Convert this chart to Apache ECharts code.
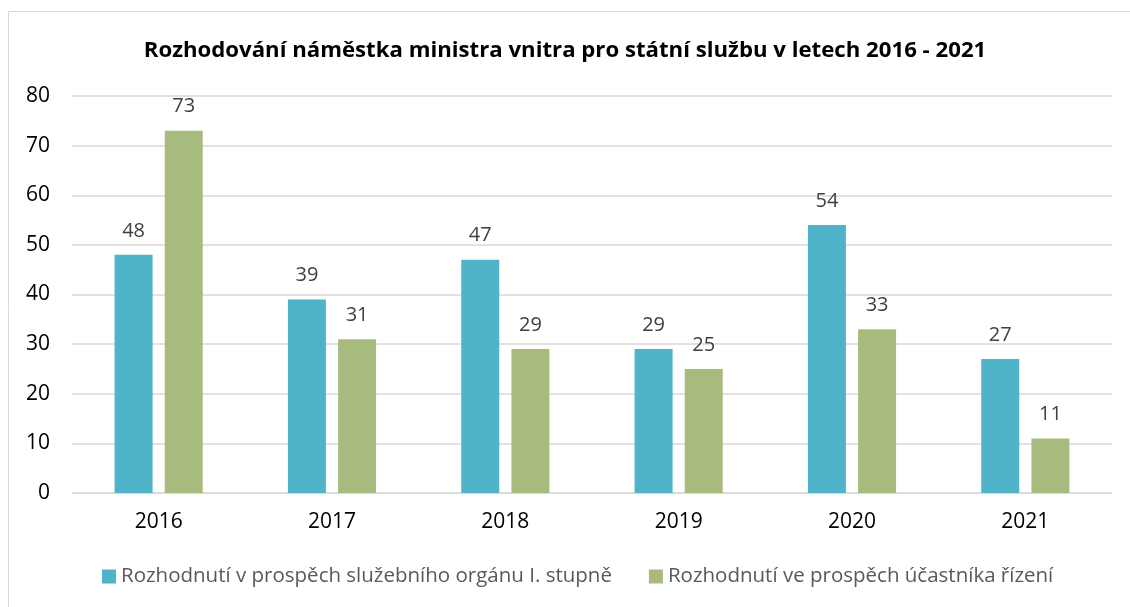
<!DOCTYPE html>
<html>
<head>
<meta charset="utf-8">
<script src="https://cdn.jsdelivr.net/npm/echarts@6/dist/echarts.min.js"></script>
<style>
  html, body { margin: 0; padding: 0; background: #fff; }
  #chart { width: 1130px; height: 607px; }
</style>
</head>
<body>
<div id="chart"></div>
<script>
// --- Data ---
const years = ['2016', '2017', '2018', '2019', '2020', '2021'];
const organValues = [48, 39, 47, 29, 54, 27];
const participantValues = [73, 31, 29, 25, 33, 11];
const seriesNames = [
    'Rozhodnutí v prospěch služebního orgánu I. stupně',
    'Rozhodnutí ve prospěch účastníka řízení'
];

const font = '"Open Sans", Lato, sans-serif';
const chart = echarts.init(document.getElementById('chart'));

const labelStyle = {
    show: true,
    position: 'top',
    distance: 14,
    color: '#404040',
    fontSize: 20,
    fontFamily: font
};

chart.setOption({
    animation: false,
    graphic: [{
        type: 'rect',
        shape: { x: 8.5, y: 11.5, width: 1140, height: 620 },
        style: { fill: 'none', stroke: '#d9d9d9', lineWidth: 1 },
        silent: true
    }],
    title: {
        text: 'Rozhodování náměstka ministra vnitra pro státní službu v letech 2016 - 2021',
        left: 560,
        textAlign: 'center',
        top: 35,
        textStyle: { fontFamily: font, fontSize: 22.2, fontWeight: 'bold', color: '#000' }
    },
    legend: {
        bottom: 15,
        left: 97,
        itemWidth: 14,
        itemHeight: 14,
        itemGap: 37,
        icon: 'rect',
        textStyle: { fontFamily: font, fontSize: 20.5, color: '#595959' }
    },
    grid: { left: 72, right: 18, top: 96, bottom: 114 },
    xAxis: {
        type: 'category',
        data: years,
        axisTick: { show: false },
        axisLine: { lineStyle: { color: '#d9d9d9', width: 1.5 } },
        axisLabel: { fontFamily: font, fontSize: 21, color: '#000', margin: 19 }
    },
    yAxis: {
        type: 'value',
        min: 0,
        max: 80,
        interval: 10,
        axisLabel: { fontFamily: font, fontSize: 21, color: '#000', margin: 22 },
        splitLine: { lineStyle: { color: '#d9d9d9', width: 1.5 } }
    },
    series: [
        {
            name: seriesNames[0],
            type: 'bar',
            data: organValues,
            barWidth: 38,
            barGap: '32%',
            itemStyle: { color: '#4fb3c9' },
            label: labelStyle
        },
        {
            name: seriesNames[1],
            type: 'bar',
            data: participantValues,
            barWidth: 38,
            itemStyle: { color: '#a8bb7f' },
            label: labelStyle
        }
    ]
});
</script>
</body>
</html>
